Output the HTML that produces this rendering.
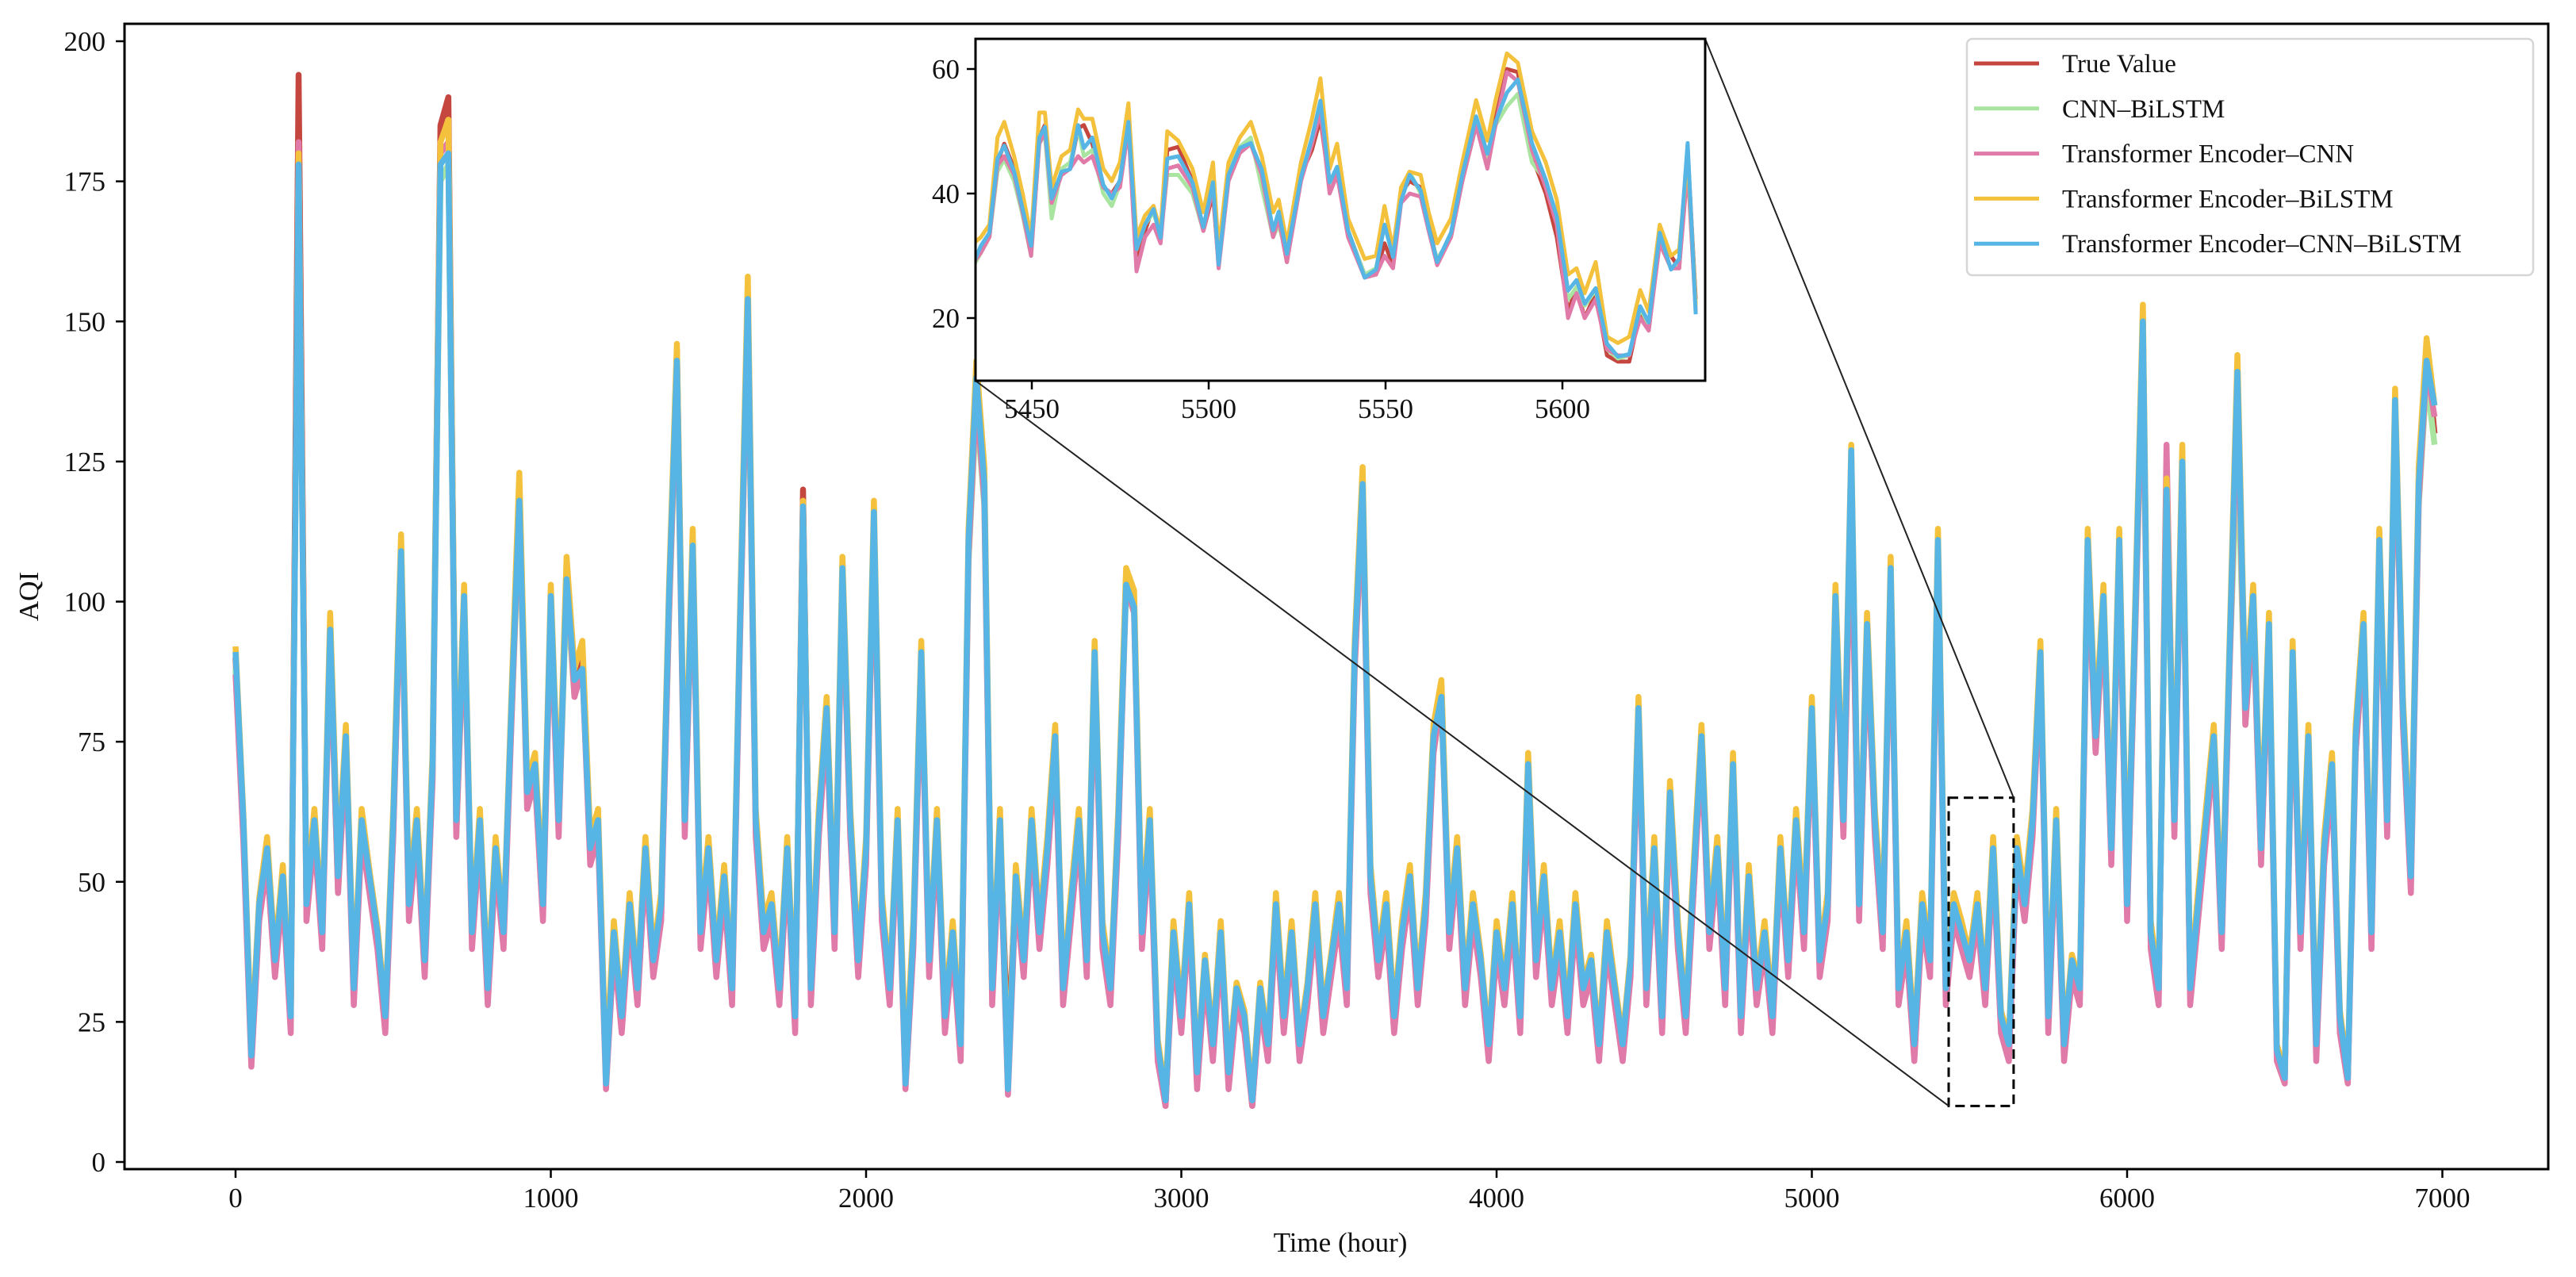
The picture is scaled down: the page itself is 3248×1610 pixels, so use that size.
<!DOCTYPE html>
<html><head><meta charset="utf-8"><style>
html,body{margin:0;padding:0;background:#fff;}
svg{display:block;}
text{font-family:"Liberation Serif",serif;fill:#111;}
</style></head><body>
<svg id="chart" width="3248" height="1610" viewBox="0 0 3248 1610" xmlns="http://www.w3.org/2000/svg">
<rect width="3248" height="1610" fill="#fff"/>
<defs>
<clipPath id="mainClip"><rect x="157" y="30" width="3056" height="1444"/></clipPath>
<clipPath id="insetClip"><rect x="1230" y="49" width="920" height="431"/></clipPath>
</defs>
<g id="mainSeries" clip-path="url(#mainClip)"></g>
<g id="mainAxes"></g>
<g id="connectors"></g>
<rect x="1230" y="49" width="920" height="431" fill="#fff"/>
<g id="insetSeries" clip-path="url(#insetClip)"></g>
<g id="insetAxes"></g>
<g id="legend"></g>
<text x="1690" y="1578" font-size="35" text-anchor="middle">Time (hour)</text>
<text transform="translate(48,752) rotate(-90)" font-size="35" text-anchor="middle">AQI</text>
</svg>
<script>
const seriesNames = ["True Value","CNN\u2013BiLSTM","Transformer Encoder\u2013CNN","Transformer Encoder\u2013BiLSTM","Transformer Encoder\u2013CNN\u2013BiLSTM"];
const seriesColors = ["#c4463f","#a9e5a1","#e07aa8","#f4c13d","#56b5e4"];
const mainStep = 25;
const trueMain = [90,60,20,45,55,35,50,25,194,45,60,40,95,50,75,30,60,50,40,25,60,110,45,60,35,70,185,190,60,100,40,60,30,55,40,80,120,65,70,45,100,60,105,85,90,55,60,15,40,25,45,30,55,35,45,100,145,60,110,40,55,35,50,30,95,155,60,40,45,30,55,25,120,30,60,80,40,105,60,35,55,115,45,30,60,15,40,90,35,60,25,40,20,110,140,120,30,60,20,50,35,60,40,55,75,30,45,60,35,90,40,30,60,105,100,40,60,20,10,40,25,45,15,35,20,40,15,30,25,10,30,20,45,25,40,20,30,45,25,35,45,30,90,120,50,35,45,25,40,50,30,45,75,85,40,55,30,45,35,20,40,30,45,25,70,35,50,30,40,25,45,30,35,20,40,30,20,35,80,30,55,25,65,40,25,50,75,40,55,30,70,25,50,30,40,25,55,35,60,40,80,35,45,100,60,120,45,95,60,40,105,30,40,20,45,35,110,30,45,40,35,45,30,55,25,20,55,45,60,90,25,60,20,35,30,110,75,100,55,110,45,95,150,40,30,120,60,125,30,45,60,75,40,90,140,80,100,55,95,20,15,90,40,75,20,55,70,25,15,75,95,40,110,60,135,80,50,120,145,130];
const greenMain = [88,59,21,44,54,36,48,26,178,44,59,41,92,48,74,31,59,49,41,26,58,106,44,59,36,68,175,178,58,97,41,58,31,54,41,78,115,63,68,45,98,59,102,83,88,55,59,16,39,26,44,31,54,35,45,97,140,59,107,40,54,35,49,31,93,150,59,40,44,31,54,26,116,31,59,78,40,102,59,35,54,112,44,31,59,16,40,88,35,59,26,40,21,107,135,117,31,59,14,49,35,59,40,54,73,31,45,59,35,88,40,31,59,102,98,40,59,21,12,40,26,44,16,35,21,40,16,31,26,12,31,21,44,26,40,21,31,44,26,35,44,31,88,117,49,35,44,26,40,49,31,44,73,82,40,54,31,44,35,21,40,31,44,26,68,35,49,31,40,26,44,31,35,21,40,31,21,35,78,31,54,26,63,40,26,49,73,40,54,31,68,26,49,31,40,26,54,35,59,40,78,35,45,97,59,117,44,92,59,40,102,31,40,21,44,35,107,31,44,40,35,44,31,54,26,21,54,44,59,88,26,59,21,35,31,107,73,97,54,107,44,92,145,40,31,117,59,122,31,44,59,73,40,88,128,78,97,54,92,19,16,88,40,73,21,54,68,26,16,73,92,40,107,59,132,78,49,117,140,128];
const pinkMain = [87,57,17,43,53,33,48,23,182,43,58,38,93,48,73,28,58,48,38,23,58,107,43,58,33,68,180,182,58,98,38,58,28,53,38,78,118,63,68,43,98,58,106,83,88,53,58,13,38,23,43,28,53,33,43,98,142,58,108,38,53,33,48,28,93,152,58,38,43,28,53,23,117,28,58,78,38,103,58,33,53,113,43,28,58,13,38,88,33,58,23,38,18,108,137,118,28,58,12,48,33,58,38,53,73,28,43,58,33,88,38,28,58,103,98,38,58,18,10,38,23,43,13,33,18,38,13,28,23,10,28,18,43,23,38,18,28,43,23,33,43,28,88,118,48,33,43,23,38,48,28,43,73,83,38,53,28,43,33,18,38,28,43,23,68,33,48,28,38,23,43,28,33,18,38,28,18,33,78,28,53,23,63,38,23,48,73,38,53,28,68,23,48,28,38,23,53,33,58,38,78,33,43,98,58,118,43,93,58,38,103,28,38,18,43,33,108,28,43,38,33,43,28,53,23,18,53,43,58,88,23,58,18,33,28,108,73,98,53,108,43,93,147,38,28,128,58,122,28,43,58,73,38,88,138,78,98,53,93,18,14,88,38,73,18,53,68,23,14,73,93,38,108,58,133,78,48,118,142,133];
const yellowMain = [92,62,21,47,58,37,53,27,180,48,63,42,98,53,78,32,63,52,42,27,63,112,48,63,37,73,182,186,63,103,42,63,32,58,42,83,123,68,73,48,103,63,108,88,93,58,63,17,43,27,48,32,58,37,48,103,146,63,113,43,58,37,53,32,98,158,63,43,48,32,58,27,118,32,63,83,43,108,63,37,58,118,48,32,63,17,43,93,37,63,27,43,22,113,143,124,32,63,14,53,37,63,43,58,78,32,48,63,37,93,43,32,63,106,102,43,63,22,12,43,27,48,17,37,22,43,17,32,27,12,32,22,48,27,43,22,32,48,27,37,48,32,93,124,53,37,48,27,43,53,32,48,78,86,43,58,32,48,37,22,43,32,48,27,73,37,53,32,43,27,48,32,37,22,43,32,22,37,83,32,58,27,68,43,27,53,78,43,58,32,73,27,53,32,43,27,58,37,63,43,83,37,48,103,63,128,48,98,63,43,108,32,43,22,48,37,113,32,48,43,37,48,32,58,27,22,58,48,63,93,27,63,22,37,32,113,78,103,58,113,48,98,153,43,32,122,63,128,32,48,63,78,43,93,144,83,103,58,98,21,16,93,43,78,22,58,73,27,16,78,98,43,113,63,138,83,53,124,147,135];
const blueMain = [91,61,19,46,56,36,51,26,178,46,61,41,95,51,76,31,61,51,41,26,61,109,46,61,36,71,178,180,61,101,41,61,31,56,41,81,118,66,71,46,101,61,104,86,88,56,61,14,41,26,46,31,56,36,46,101,143,61,110,41,56,36,51,31,96,154,61,41,46,31,56,26,117,31,61,81,41,106,61,36,56,116,46,31,61,14,41,91,36,61,26,41,21,111,140,121,31,61,13,51,36,61,41,56,76,31,46,61,36,91,41,31,61,103,99,41,61,21,11,41,26,46,16,36,21,41,16,31,26,11,31,21,46,26,41,21,31,46,26,36,46,31,91,121,51,36,46,26,41,51,31,46,76,83,41,56,31,46,36,21,41,31,46,26,71,36,51,31,41,26,46,31,36,21,41,31,21,36,81,31,56,26,66,41,26,51,76,41,56,31,71,26,51,31,41,26,56,36,61,41,81,36,46,101,61,127,46,96,61,41,106,31,41,21,46,36,111,31,46,41,36,46,31,56,26,21,56,46,61,91,26,61,21,36,31,111,76,101,56,111,46,96,150,41,31,120,61,125,31,46,61,76,41,91,141,81,101,56,96,20,15,91,41,76,21,56,71,26,15,76,96,41,111,61,136,81,51,121,143,135];

const insetHours = [5433.6,5435.6,5438,5440.3,5442.2,5445,5447.4,5449.8,5452.1,5453.7,5455.6,5458.4,5460.8,5463.1,5464.7,5467.1,5470.2,5472.6,5474.9,5477.3,5479.6,5482,5484.4,5486.4,5488.3,5491.4,5495.4,5498.5,5501.2,5502.8,5505.6,5508.8,5511.9,5515,5518.2,5519.8,5522.1,5526.1,5529.2,5531.6,5534.2,5536.3,5539.4,5544.1,5547.3,5549.7,5552.1,5554.4,5556.8,5559.9,5562.2,5564.6,5568.5,5571.7,5575.6,5578.8,5581.1,5584.3,5587.4,5591.4,5595.3,5598.4,5601.6,5604,5606.3,5609.4,5612.6,5615.7,5618.9,5622,5624.4,5627.5,5630.7,5633,5635.4,5637.7];
const trueInset = [30,31,33,45,48,44,38,31,49,51,40,43,44,50.5,51,48,41,40,42,51,30,34,38,33,47,47.5,42,34,40,28.5,43,47,48,43,34,36,29,43,47,52,41,44,34,27,27,32,28.5,40,42,41,35,29,33,42,51,45,52,60,59.5,46,40,33,21,25,20,24,14,13,13,21,18,33,30,28,47,23];
const greenInset = [28.5,30.5,33,43.5,45.5,42,36.5,30,48,49.5,36,44,45,50.5,46,47,40,38,41.5,51,31,35,37,33,43,43,40,34,42,29,44,47.5,49,41,33,35,30,43,48,53.5,41,43.5,34,27,28,35,30,39.5,43.5,40,34,29.5,33,43,52,45,51,54,56,45,42,36.5,23,25,22,24.5,15,13.5,14,21.5,19,32,28,28.5,47,22];
const pinkInset = [29,30.5,33,44.5,46,43,37,30,48,50,38.5,43,44,46,45,46,41,40,41,50.5,27.5,33,35,32,44,44.5,41,34,41,28,42,46.5,48,43,33,36,29,42,48,53,40,43,33,26.5,27,30,28,38.5,40,39.5,34,28.5,33,42,51,44,51,59.5,58,47,41,35,20,24,20,23,15,14,14,20,18,32,28,28,44,21];
const yellowInset = [32,33,35,49,51.5,46,40,33,53,53,41,46,47,53.5,52,52,44,42,45,54.5,33,36.5,38,34,50,48.5,44,37,45,31,45,49,51.5,46,37,39,32,45,52,58.5,44,48,36,29.5,30,38,31,41,43.5,43,37,32,36,45,55,48.5,55,62.5,61,50,45,39,27,28,24,29,17,16,17,24.5,21,35,30,31,46,22];
const blueInset = [29,31.6,33.7,45.6,47.7,43.5,37.5,31.6,49,50.7,39.2,43.5,43.9,51,47.3,49,41.4,39.2,42.2,51.5,31.1,35,37.5,32.9,45.6,46,41.8,34.6,41.8,28.6,43,47.3,48.1,43.9,34.1,37.1,30.3,42.6,49,54.9,41.8,44.3,34.1,26.5,27.8,35,29.8,38.8,43,40.5,34.6,29,33.7,43,52.4,46.4,51.5,56.2,58.3,48.1,42.2,36.3,24.4,26.1,22.3,24.8,15.9,13.8,14.2,21.9,19.3,33.7,27.8,29.5,48.1,20.6];
const mainXTicks = [0,1000,2000,3000,4000,5000,6000,7000];
const mainYTicks = [0,25,50,75,100,125,150,175,200];
const insetXTicks = [5450,5500,5550,5600];
const insetYTicks = [20,40,60];

const NS = "http://www.w3.org/2000/svg";
function mk(tag, attrs, parent){const e=document.createElementNS(NS,tag);for(const k in attrs)e.setAttribute(k,attrs[k]);parent.appendChild(e);return e;}

const M = {l:157,r:3213,t:30,b:1474};
function mx(v){return 297 + v*0.3975;}
function my(v){return 1465 - v*7.065;}
const I = {l:1230,r:2150,t:49,b:480};
function ix(v){return 1301 + (v-5450)*4.46;}
function iy(v){return 401 - (v-20)*7.85;}

const mainSeries=[trueMain,greenMain,pinkMain,yellowMain,blueMain];
const insetSeries=[trueInset,greenInset,pinkInset,yellowInset,blueInset];
const seriesKeys=["true-value","cnn-bilstm","transformer-cnn","transformer-bilstm","transformer-cnn-bilstm"];

const gMain=document.getElementById("mainSeries");
mainSeries.forEach((arr,si)=>{
  const d=arr.map((v,i)=>(i?"L":"M")+mx(i*mainStep).toFixed(1)+" "+my(v).toFixed(1)).join(" ");
  const p=mk("path",{d:d,fill:"none",stroke:seriesColors[si],"stroke-width":7.5,"stroke-linejoin":"round"},gMain);
  
  
});

const gA=document.getElementById("mainAxes");
const frame=mk("rect",{x:M.l,y:M.t,width:M.r-M.l,height:M.b-M.t,fill:"none",stroke:"#000","stroke-width":3},gA);


mainXTicks.forEach(t=>{
  const x=mx(t);
  const tk=mk("line",{x1:x,x2:x,y1:M.b,y2:M.b+11,stroke:"#000","stroke-width":2.5},gA);
  
  
  const tx=mk("text",{x:x,y:M.b+48,"font-size":35,"text-anchor":"middle"},gA);
  tx.textContent=t;
  
  
});
mainYTicks.forEach(t=>{
  const y=my(t);
  const tk=mk("line",{x1:M.l-11,x2:M.l,y1:y,y2:y,stroke:"#000","stroke-width":2.5},gA);
  
  
  const tx=mk("text",{x:M.l-24,y:y+12,"font-size":35,"text-anchor":"end"},gA);
  tx.textContent=t;
  
  
});

const gC=document.getElementById("connectors");
const zx0=mx(5434), zx1=mx(5640), zy0=my(65), zy1=my(10);
const zb=mk("rect",{x:zx0,y:zy0,width:zx1-zx0,height:zy1-zy0,fill:"none",stroke:"#000","stroke-width":3,"stroke-dasharray":"12 7"},gC);


const c1=mk("line",{x1:I.l,y1:I.b,x2:zx0,y2:zy1,stroke:"#222","stroke-width":2},gC);


const c2=mk("line",{x1:I.r,y1:I.t,x2:zx1,y2:zy0,stroke:"#222","stroke-width":2},gC);



const gI=document.getElementById("insetSeries");
insetSeries.forEach((arr,si)=>{
  const d=arr.map((v,i)=>(i?"L":"M")+ix(insetHours[i]).toFixed(1)+" "+iy(v).toFixed(1)).join(" ");
  const p=mk("path",{d:d,fill:"none",stroke:seriesColors[si],"stroke-width":5,"stroke-linejoin":"round"},gI);
  
  
});
const gIA=document.getElementById("insetAxes");
const iframe=mk("rect",{x:I.l,y:I.t,width:I.r-I.l,height:I.b-I.t,fill:"none",stroke:"#000","stroke-width":3},gIA);


insetXTicks.forEach(t=>{
  const x=ix(t);
  const tk=mk("line",{x1:x,x2:x,y1:I.b,y2:I.b+11,stroke:"#000","stroke-width":2.5},gIA);
  
  
  const tx=mk("text",{x:x,y:I.b+47,"font-size":35,"text-anchor":"middle"},gIA);
  tx.textContent=t;
  
  
});
insetYTicks.forEach(t=>{
  const y=iy(t);
  const tk=mk("line",{x1:I.l-11,x2:I.l,y1:y,y2:y,stroke:"#000","stroke-width":2.5},gIA);
  
  
  const tx=mk("text",{x:I.l-20,y:y+12,"font-size":35,"text-anchor":"end"},gIA);
  tx.textContent=t;
  
  
});

const gL=document.getElementById("legend");
const lb=mk("rect",{x:2480,y:49,width:714,height:298,rx:7,fill:"#fff","fill-opacity":0.85,stroke:"#d6d6d6","stroke-width":2.5},gL);


seriesNames.forEach((n,i)=>{
  const y=80+i*56.8;
  const h=mk("line",{x1:2489,x2:2571,y1:y,y2:y,stroke:seriesColors[i],"stroke-width":5},gL);
  
  
  const t=mk("text",{x:2600,y:y+11,"font-size":33},gL);
  t.textContent=n;
  
  
});
</script>
</body></html>
